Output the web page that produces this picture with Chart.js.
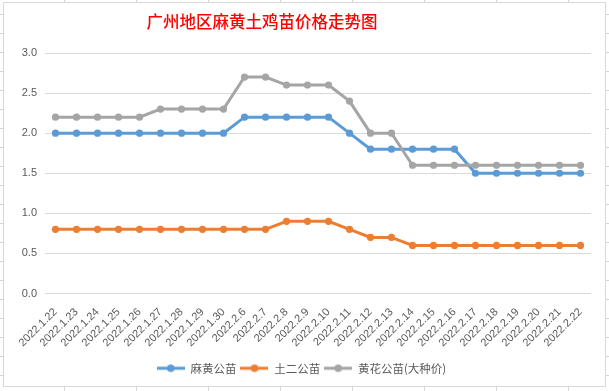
<!DOCTYPE html>
<html>
<head>
<meta charset="utf-8">
<script src="https://cdn.jsdelivr.net/npm/chart.js@4/dist/chart.umd.min.js"></script>
<style>
  html, body { margin: 0; padding: 0; width: 609px; height: 391px; overflow: hidden; }
  body {
    position: relative;
    background-color: #ffffff;
    background-image:
      repeating-linear-gradient(to bottom, transparent 0px, transparent 14px, #d4d4dc 14px, #d4d4dc 15px, transparent 15px, transparent 19px),
      repeating-linear-gradient(to right, transparent 0px, transparent 64px, #d4d4dc 64px, #d4d4dc 65px, transparent 65px, transparent 72px);
  }
  #frame {
    position: absolute; left: 3px; top: 2px; width: 601px; height: 383px;
    background: #ffffff; border: 1px solid #d9d9d9;
  }
  #wrap { position: absolute; left: 0; top: 0; width: 609px; height: 391px; }
</style>
</head>
<body>
<div id="frame"></div>
<div id="wrap"><canvas id="c" width="609" height="391"></canvas></div>
<script>
const titleText = '广州地区麻黄土鸡苗价格走势图';
const categories = [
  '2022.1.22','2022.1.23','2022.1.24','2022.1.25','2022.1.26','2022.1.27','2022.1.28','2022.1.29','2022.1.30',
  '2022.2.6','2022.2.7','2022.2.8','2022.2.9','2022.2.10','2022.2.11','2022.2.12','2022.2.13','2022.2.14',
  '2022.2.15','2022.2.16','2022.2.17','2022.2.18','2022.2.19','2022.2.20','2022.2.21','2022.2.22'
];
const seriesNames = ['麻黄公苗', '土二公苗', '黄花公苗(大种价)'];
const mahuang = [2.0,2.0,2.0,2.0,2.0,2.0,2.0,2.0,2.0, 2.2,2.2,2.2,2.2,2.2,2.0,1.8,1.8,1.8, 1.8,1.8,1.5,1.5,1.5,1.5,1.5,1.5];
const tuer    = [0.8,0.8,0.8,0.8,0.8,0.8,0.8,0.8,0.8, 0.8,0.8,0.9,0.9,0.9,0.8,0.7,0.7,0.6, 0.6,0.6,0.6,0.6,0.6,0.6,0.6,0.6];
const huanghua= [2.2,2.2,2.2,2.2,2.2,2.3,2.3,2.3,2.3, 2.7,2.7,2.6,2.6,2.6,2.4,2.0,2.0,1.6, 1.6,1.6,1.6,1.6,1.6,1.6,1.6,1.6];
const yTicks = [0, 0.5, 1.0, 1.5, 2.0, 2.5, 3.0];
const colors = ['#5b9bd5', '#ed7d31', '#a5a5a5'];

function legendIcon(color) {
  const cv = document.createElement('canvas');
  cv.width = 28; cv.height = 10;
  const g = cv.getContext('2d');
  g.strokeStyle = color; g.lineWidth = 3;
  g.beginPath(); g.moveTo(0, 5); g.lineTo(28, 5); g.stroke();
  g.fillStyle = color;
  g.beginPath(); g.arc(14, 5, 3.8, 0, Math.PI * 2); g.fill();
  return cv;
}

function mk(name, data, color) {
  return {
    label: name, data: data,
    borderColor: color, backgroundColor: color,
    borderWidth: 3, pointRadius: 3.6, pointHoverRadius: 3.6,
    pointBackgroundColor: color, pointBorderColor: color, pointBorderWidth: 0,
    pointStyle: 'circle', tension: 0, fill: false,
    legendIcon: legendIcon(color)
  };
}

// Reverse dataset order so that later Excel series paint on top; legend reversed back.
const datasets = [
  mk(seriesNames[2], huanghua, colors[2]),
  mk(seriesNames[1], tuer, colors[1]),
  mk(seriesNames[0], mahuang, colors[0])
];

const blockShift = {
  id: 'blockShift',
  afterLayout(chart) {
    const t = chart.titleBlock;
    if (t) { t.left = 0; t.right = 524; }
    const l = chart.legend;
    if (l) { l.left = 0; l.right = 603; }
  }
};

new Chart(document.getElementById('c'), {
  type: 'line',
  data: { labels: categories, datasets: datasets },
  plugins: [blockShift],
  options: {
    responsive: false,
    animation: false,
    devicePixelRatio: 1,
    layout: { padding: { left: 0, right: 18, top: 0, bottom: 7 } },
    plugins: {
      title: {
        display: true, text: titleText, color: '#ff0000',
        font: { family: "'Noto Sans CJK SC', sans-serif", size: 16.5, weight: '500', lineHeight: 1.2 },
        padding: { top: 12, bottom: 21.2 }
      },
      legend: {
        position: 'bottom', reverse: true,
        labels: {
          color: '#595959',
          font: { family: "'Noto Sans CJK SC', sans-serif", size: 11.5 },
          usePointStyle: true, pointStyleWidth: 28, boxHeight: 10,
          padding: 4,
          generateLabels(chart) {
            return chart.data.datasets.map((ds, i) => ({
              text: ds.label, fillStyle: ds.borderColor, strokeStyle: ds.borderColor,
              lineWidth: 0, pointStyle: ds.legendIcon, hidden: false, datasetIndex: i,
              fontColor: '#595959'
            }));
          }
        }
      },
      tooltip: { enabled: false }
    },
    scales: {
      x: {
        offset: true,
        grid: { display: false, drawTicks: false },
        border: { display: false },
        ticks: {
          color: '#595959', autoSkip: false, maxRotation: 45, minRotation: 45, padding: 12,
          font: { family: "'Liberation Sans', sans-serif", size: 11 }
        },
        afterFit(axis) { axis.height = 65; }
      },
      y: {
        min: 0, max: 3,
        afterBuildTicks(axis) { axis.ticks = yTicks.map(v => ({ value: v })); },
        grid: { color: '#d9d9d9', lineWidth: 1, drawTicks: false },
        border: { display: false },
        ticks: {
          color: '#595959', padding: 8,
          font: { family: "'Liberation Sans', sans-serif", size: 11 },
          callback: (v) => Number(v).toFixed(1)
        },
        afterFit(axis) { axis.width = 45; }
      }
    }
  }
});
</script>
</body>
</html>
